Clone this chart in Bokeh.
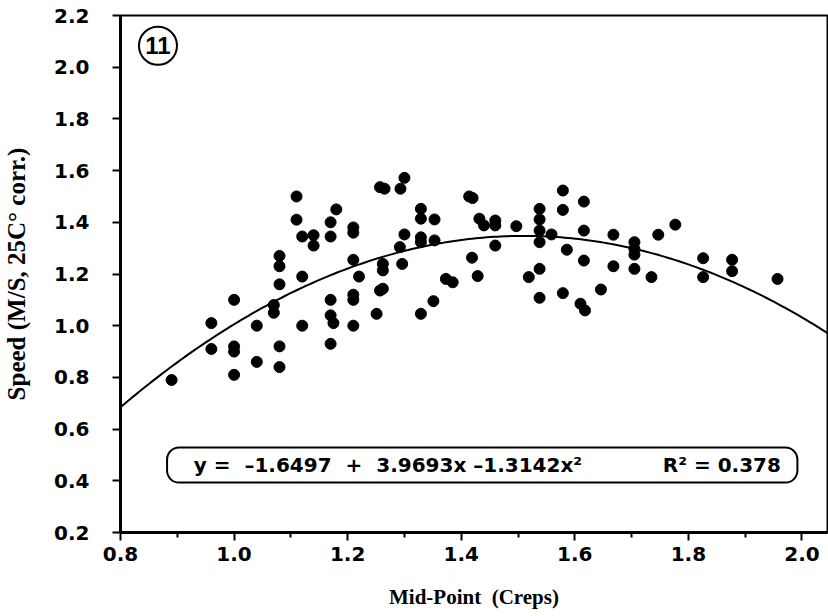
from bokeh.plotting import figure
from bokeh.models import FixedTicker, Label, BoxAnnotation, CustomJSTickFormatter
from bokeh.embed import file_html
from bokeh.resources import INLINE
import numpy as np

# Data (Mid-Point in Creps, Speed in M/S)
mid_point = [0.89, 1.11, 1.11, 1.12, 1.14, 1.14, 1.17, 1.18, 1.17, 1.21, 1.21,
             1.08, 1.08, 1.08, 1.12, 1.21, 1.22, 1.00, 1.07, 1.07, 1.17, 1.21,
             1.21, 0.96, 1.04, 1.12, 1.17, 1.175, 1.21, 0.96, 1.00, 1.00, 1.08,
             1.17, 1.04, 1.08, 1.00,
             1.257, 1.265, 1.300, 1.293, 1.329, 1.329, 1.353, 1.300, 1.329, 1.329,
             1.353, 1.292, 1.262, 1.262, 1.296, 1.257, 1.262, 1.251, 1.329, 1.351,
             1.373, 1.385, 1.414, 1.420, 1.432, 1.440, 1.460, 1.460, 1.419, 1.429,
             1.460, 1.497, 1.519, 1.538, 1.538, 1.538, 1.538, 1.559, 1.538, 1.538,
             1.579, 1.579, 1.586, 1.579, 1.616, 1.616, 1.616, 1.610, 1.618,
             1.646, 1.668, 1.668, 1.705, 1.705, 1.705, 1.705, 1.735, 1.747, 1.777,
             1.826, 1.826, 1.877, 1.877, 1.957]
speed = [0.79, 1.50, 1.41, 1.345, 1.35, 1.31, 1.345, 1.45, 1.40, 1.38, 1.36,
         1.27, 1.23, 1.16, 1.19, 1.255, 1.19, 1.10, 1.08, 1.05, 1.10, 1.12,
         1.10, 1.01, 1.00, 1.00, 1.04, 1.01, 1.00, 0.91, 0.92, 0.90, 0.92,
         0.93, 0.86, 0.84, 0.81,
         1.536, 1.530, 1.572, 1.530, 1.452, 1.414, 1.411, 1.353, 1.342, 1.323,
         1.330, 1.304, 1.239, 1.214, 1.239, 1.136, 1.143, 1.046, 1.046, 1.095,
         1.181, 1.168, 1.500, 1.494, 1.414, 1.388, 1.407, 1.388, 1.263, 1.192,
         1.310, 1.385, 1.188, 1.452, 1.411, 1.368, 1.323, 1.353, 1.220, 1.108,
         1.523, 1.448, 1.294, 1.126, 1.480, 1.368, 1.252, 1.085, 1.059,
         1.140, 1.352, 1.230, 1.323, 1.297, 1.275, 1.220, 1.188, 1.352, 1.391,
         1.261, 1.188, 1.255, 1.211, 1.181]

# Quadratic fit shown on the chart: y = a + b x + c x^2
fit_a, fit_b, fit_c = -1.6497, 3.9693, -1.3142
r_squared = 0.378

x_ticks = [0.8, 1.0, 1.2, 1.4, 1.6, 1.8, 2.0]
x_minor = [0.9, 1.1, 1.3, 1.5, 1.7, 1.9]
y_ticks = [0.2, 0.4, 0.6, 0.8, 1.0, 1.2, 1.4, 1.6, 1.8, 2.0, 2.2]

X_RANGE = (0.8, 2.045)
Y_RANGE = (0.2, 2.2)

p = figure(width=828, height=616, x_range=X_RANGE, y_range=Y_RANGE,
           output_backend="svg", toolbar_location=None,
           min_border_left=116, min_border_right=1, min_border_top=15,
           min_border_bottom=84)
p.grid.visible = False
p.outline_line_color = "black"
p.outline_line_width = 2
p.outline_line_alpha = 1.0
p.background_fill_color = "white"
p.border_fill_color = "white"

fmt = CustomJSTickFormatter(code="return tick.toFixed(1);")

for ax in (p.xaxis[0], p.yaxis[0]):
    ax.formatter = fmt
    ax.axis_label_text_font = "Liberation Serif"
    ax.axis_label_text_font_style = "bold"
    ax.axis_label_text_color = "black"
    ax.major_label_text_font = "DejaVu Sans"
    ax.major_label_text_font_style = "bold"
    ax.major_label_text_font_size = "20px"
    ax.major_label_text_color = "black"
    ax.axis_line_color = "black"
    ax.axis_line_width = 3
    ax.major_tick_line_color = "black"
    ax.minor_tick_line_color = "black"
    ax.major_tick_out = 8
    ax.major_tick_in = 0
    ax.major_tick_line_width = 2
    ax.minor_tick_line_width = 2
    ax.minor_tick_in = 0

xa = p.xaxis[0]
xa.ticker = FixedTicker(ticks=x_ticks, minor_ticks=x_minor)
xa.axis_label = "Mid-Point\u00a0 (Creps)"
xa.axis_label_text_font_size = "21px"
xa.axis_label_standoff = 21
xa.major_label_standoff = 6
xa.minor_tick_out = 5

ya = p.yaxis[0]
ya.ticker = FixedTicker(ticks=y_ticks, minor_ticks=[])
ya.axis_label = "Speed (M/S, 25C\u00b0 corr.)"
ya.axis_label_text_font_size = "25px"
ya.axis_label_standoff = 21
ya.major_label_standoff = 23
ya.minor_tick_out = 0

# fitted curve from the chart's equation
fx = np.linspace(X_RANGE[0], X_RANGE[1], 200)
fy = fit_a + fit_b * fx + fit_c * fx ** 2
p.line(fx, fy, line_color="black", line_width=2)

p.scatter(mid_point, speed, marker="circle", size=11,
          fill_color="black", line_color="black")

# equation box
p.add_layout(BoxAnnotation(left=0.882, right=1.992, bottom=0.393, top=0.529,
                           fill_color="white", fill_alpha=1.0,
                           line_color="black", line_alpha=1.0, line_width=2,
                           border_radius=12))
nb = "\u00a0"
eq_text = ("y =" + nb * 2 + "\u20131.6497" + nb * 2 + "+" + nb * 2 +
           "3.9693x \u20131.3142x\u00b2")
p.add_layout(Label(x=0.929, y=0.461, text=eq_text, text_font="DejaVu Sans",
                   text_font_style="bold", text_font_size="20px",
                   text_baseline="middle", text_color="black"))
p.add_layout(Label(x=1.755, y=0.461, text="R\u00b2 = %.3f" % r_squared,
                   text_font="DejaVu Sans", text_font_style="bold",
                   text_font_size="20px", text_baseline="middle",
                   text_color="black"))

# panel number
p.circle(x=[0.866], y=[2.083], radius=19, radius_units="screen",
         fill_color=None, line_color="black", line_width=2)
p.add_layout(Label(x=0.866, y=2.083, text="11", text_font="Liberation Sans",
                   text_font_style="bold", text_font_size="24px",
                   text_align="center", text_baseline="middle",
                   text_color="black"))

open("out.html", "w").write(file_html(p, INLINE))
